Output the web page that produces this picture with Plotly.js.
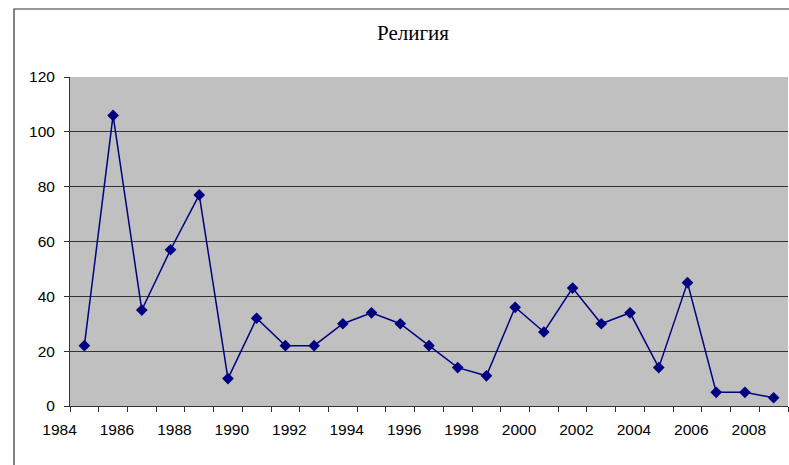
<!DOCTYPE html>
<html>
<head>
<meta charset="utf-8">
<script src="https://cdn.plot.ly/plotly-3.0.1.min.js"></script>
<style>html,body{margin:0;padding:0;background:#fff}#chart{width:789px;height:465px}</style>
</head>
<body>
<div id="chart"></div>
<script>
const chartTitle = 'Религия';
const years = [1985,1986,1987,1988,1989,1990,1991,1992,1993,1994,1995,1996,1997,1998,1999,2000,2001,2002,2003,2004,2005,2006,2007,2008,2009];
const values = [22,106,35,57,77,10,32,22,22,30,34,30,22,14,11,36,27,43,30,34,14,45,5,5,3];
const yTicks = [0,20,40,60,80,100,120];
const xLabelYears = [1984,1986,1988,1990,1992,1994,1996,1998,2000,2002,2004,2006,2008];

const navy = '#000080';
const dark = '#333333';
const tickFont = {family: 'Liberation Sans', size: 15.5, color: '#000'};

const traces = [
  {
    x: years, y: values, type: 'scatter', mode: 'lines+markers',
    line: {color: navy, width: 1.5},
    marker: {symbol: 'diamond', size: 9, color: navy},
    showlegend: false, hoverinfo: 'x+y'
  },
  // label-only axis scaffold (no marks)
  {x: [], y: [], xaxis: 'x2', yaxis: 'y2', type: 'scatter', mode: 'markers', showlegend: false}
];

const layout = {
  width: 789, height: 465,
  margin: {l: 50, r: 1, t: 77, b: 59},
  paper_bgcolor: '#ffffff',
  plot_bgcolor: 'rgba(0,0,0,0)',
  font: tickFont,
  title: {
    text: chartTitle,
    font: {family: 'Liberation Serif', size: 21, color: '#000'},
    xref: 'container', x: 413/789, xanchor: 'center',
    yref: 'container', y: 1 - 33/465, yanchor: 'middle'
  },
  xaxis: {
    domain: [20/738, 1],
    range: [1984.5, 2009.5],
    tickmode: 'linear', tick0: 1984.5, dtick: 1,
    ticks: 'outside', ticklen: 5, tickwidth: 1, tickcolor: dark,
    showticklabels: false,
    showline: true, linecolor: dark, linewidth: 1,
    showgrid: false, zeroline: false,
    anchor: 'y'
  },
  xaxis2: {
    domain: [0, 1],
    range: [1984 - 9.5/28.72, 1984 - 9.5/28.72 + 738/28.72],
    tickmode: 'array', tickvals: xLabelYears, ticktext: xLabelYears.map(String),
    tickfont: tickFont,
    ticks: '', showline: false, showgrid: false, zeroline: false,
    ticklabelstandoff: 12,
    anchor: 'y2'
  },
  yaxis: {
    range: [0, 120],
    tickmode: 'array', tickvals: yTicks,
    tickfont: tickFont,
    ticks: 'outside', ticklen: 5, tickwidth: 1, tickcolor: dark,
    showline: true, linecolor: dark, linewidth: 1,
    showgrid: true, gridcolor: dark, gridwidth: 1,
    zeroline: false,
    ticklabelstandoff: 6,
    anchor: 'x'
  },
  yaxis2: {
    range: [0, 120], domain: [0, 1],
    showticklabels: false, ticks: '', showline: false, showgrid: false, zeroline: false,
    anchor: 'x2'
  },
  shapes: [
    {type: 'rect', xref: 'x domain', yref: 'y domain', x0: 0, x1: 1, y0: 0, y1: 1,
     fillcolor: '#c0c0c0', line: {width: 0}, layer: 'below'},
    {type: 'rect', xref: 'paper', yref: 'paper',
     x0: (14 - 50)/738, x1: (800 - 50)/738, y0: (406 - 475)/329, y1: (406 - 9)/329,
     fillcolor: 'rgba(0,0,0,0)', line: {color: dark, width: 1.2}, layer: 'above'}
  ]
};

Plotly.newPlot('chart', traces, layout, {displayModeBar: false, staticPlot: true});
</script>
</body>
</html>
